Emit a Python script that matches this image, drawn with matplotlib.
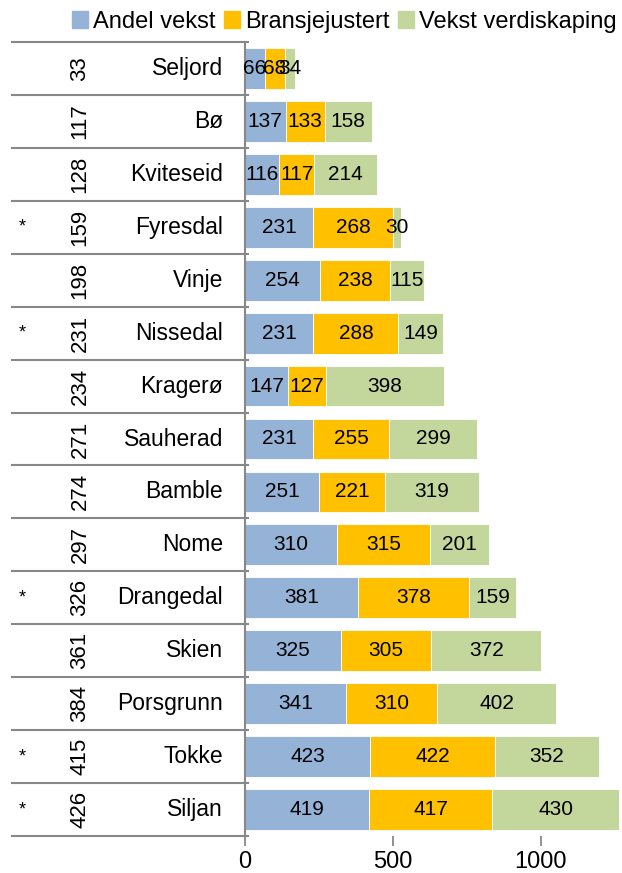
import matplotlib
matplotlib.use("Agg")
import matplotlib.pyplot as plt
from matplotlib.patches import Patch

plt.rcParams["font.family"] = ["Liberation Sans", "DejaVu Sans"]

kommuner = ["Seljord", "Bø", "Kviteseid", "Fyresdal", "Vinje", "Nissedal",
            "Kragerø", "Sauherad", "Bamble", "Nome", "Drangedal", "Skien",
            "Porsgrunn", "Tokke", "Siljan"]
rang = [33, 117, 128, 159, 198, 231, 234, 271, 274, 297, 326, 361, 384, 415, 426]
stjerne = ["", "", "", "*", "", "*", "", "", "", "", "*", "", "", "*", "*"]
andel_vekst = [66, 137, 116, 231, 254, 231, 147, 231, 251, 310, 381, 325, 341, 423, 419]
bransjejustert = [68, 133, 117, 268, 238, 288, 127, 255, 221, 315, 378, 305, 310, 422, 417]
vekst_verdi = [34, 158, 214, 30, 115, 149, 398, 299, 319, 201, 159, 372, 402, 352, 430]

series = [("Andel vekst", andel_vekst, "#95B3D7"),
          ("Bransjejustert", bransjejustert, "#FFC000"),
          ("Vekst verdiskaping", vekst_verdi, "#C3D69B")]

fig = plt.figure(figsize=(6.22, 8.73), dpi=100)
ax = fig.add_axes([245 / 622, 1 - 836 / 873, 377 / 622, 794 / 873])

ys = list(range(len(kommuner)))
left = [0] * len(kommuner)
for name, vals, col in series:
    ax.barh(ys, vals, left=left, height=0.77, color=col, label=name,
            edgecolor="white", linewidth=0.6)
    for y, l, v in zip(ys, left, vals):
        ax.text(l + v / 2, y, str(v), ha="center", va="center", fontsize=15)
    left = [a + b for a, b in zip(left, vals)]

ax.set_ylim(len(kommuner) - 0.5, -0.5)
ax.set_xlim(0, 1275)
ax.set_xticks([0, 500, 1000])
ax.tick_params(axis="x", labelsize=17, length=7, width=1.3, color="#888888", pad=4)
ax.set_yticks([])
for s in ("top", "right", "bottom"):
    ax.spines[s].set_visible(False)
ax.spines["left"].set_color("#888888")
ax.spines["left"].set_linewidth(1.5)

# category table left of the axis
tr = ax.get_yaxis_transform()
x0 = (12 - 245) / 377
for i in range(len(kommuner) + 1):
    ax.plot([x0, 0.008], [i - 0.5, i - 0.5], color="#888888", lw=1.5,
            transform=tr, clip_on=False)
for y, navn, r, s in zip(ys, kommuner, rang, stjerne):
    ax.text((223 - 245) / 377, y, navn, ha="right", va="center",
            fontsize=16.5, transform=tr)
    ax.text((80 - 245) / 377, y, str(r), ha="center", va="center",
            fontsize=16, rotation=90, transform=tr)
    if s:
        ax.text((22 - 245) / 377, y, s, ha="center", va="center",
                fontsize=13, transform=tr)

handles = [Patch(color=c, label=n) for n, _, c in series]
fig.legend(handles=handles, loc="center", bbox_to_anchor=(0.553, 0.975), ncol=3,
           frameon=False, fontsize=17, handlelength=0.7, handleheight=0.7,
           handletextpad=0.2, columnspacing=0.35, borderaxespad=0)

fig.savefig("out.png", dpi=100)
